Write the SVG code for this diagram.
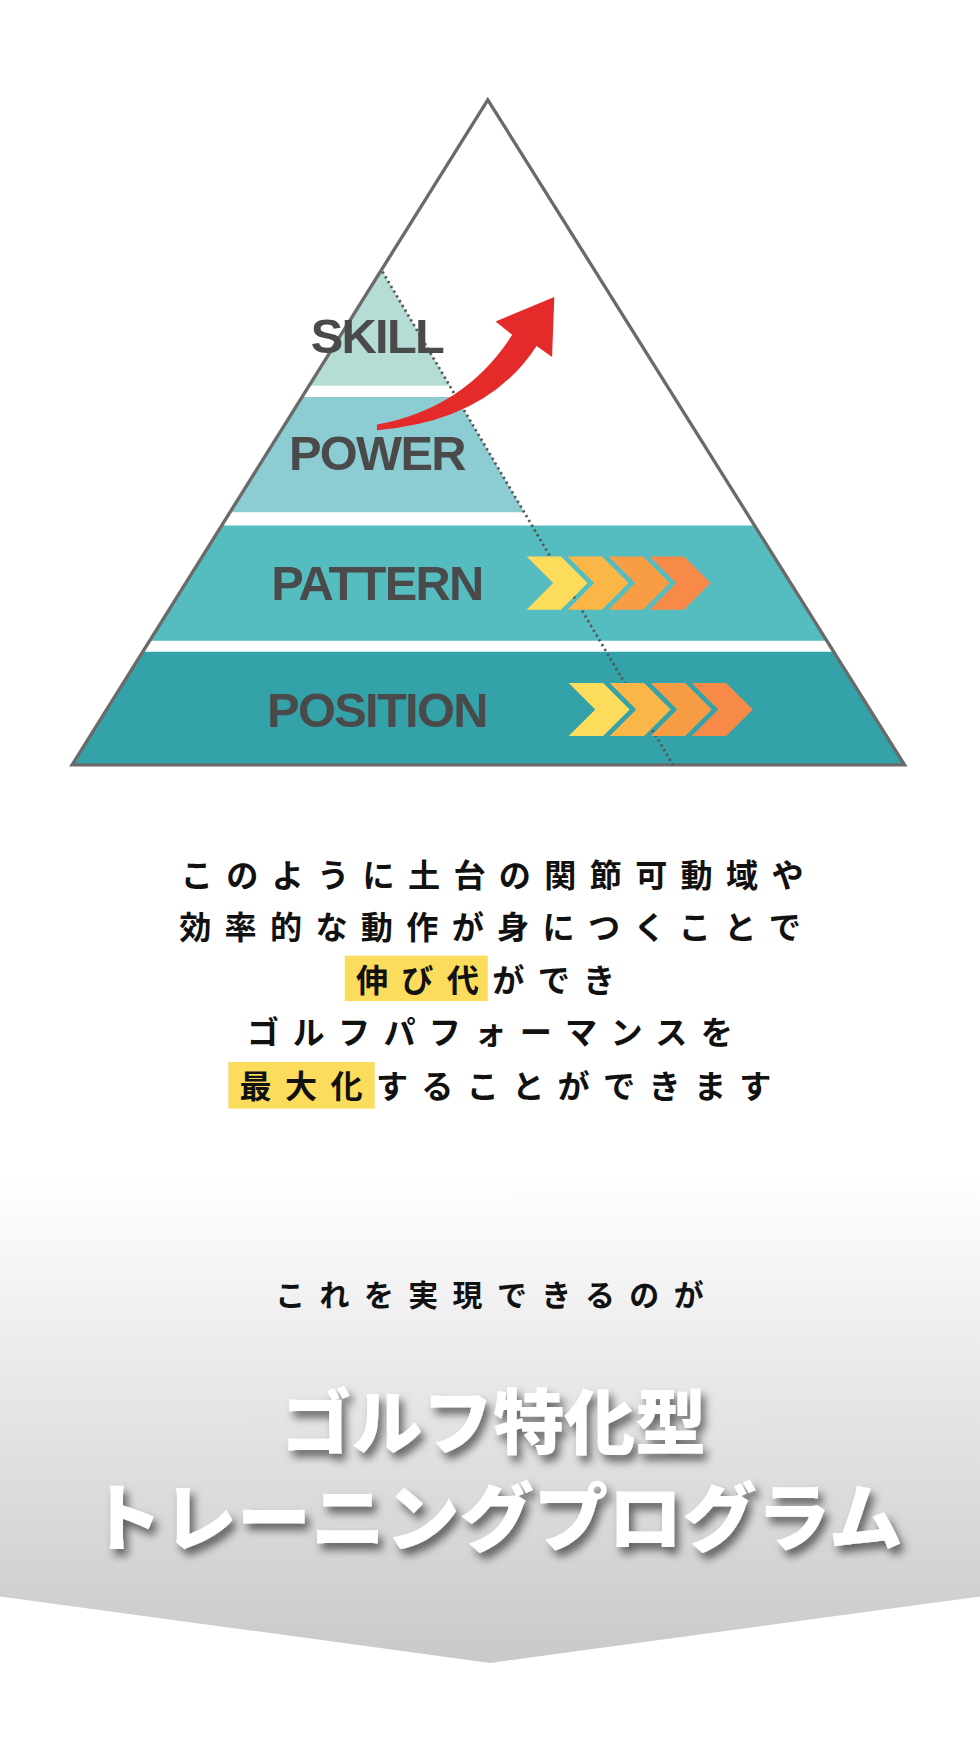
<svg xmlns="http://www.w3.org/2000/svg" width="980" height="1739" viewBox="0 0 980 1739">
<defs>
<linearGradient id="bg" x1="0" y1="0" x2="0" y2="1">
<stop offset="0" stop-color="#ffffff"/><stop offset="1" stop-color="#c9c9c9"/>
</linearGradient>
<filter id="sh" x="-10%" y="-20%" width="130%" height="150%">
<feDropShadow dx="4" dy="6" stdDeviation="4" flood-color="#000" flood-opacity="0.55"/>
</filter>
<polygon id="chev" points="0,0 31,0 55,24 31,48 0,48 24,24"/>
<style>
.lbl{font-family:"Liberation Sans",Arial,sans-serif;font-weight:bold;font-size:44px;fill:#4a4a4a;text-anchor:middle;letter-spacing:-1.5px}
.jp{font-family:"Noto Sans CJK JP",sans-serif;font-weight:bold;font-size:29px;fill:#111;text-anchor:middle;letter-spacing:12px}
.ttl{font-family:"Noto Sans CJK JP",sans-serif;font-weight:900;font-size:64px;fill:#fff;text-anchor:middle;filter:url(#sh)}
</style>
</defs>
<rect width="980" height="1739" fill="#fff"/>
<g transform="scale(1.1086)">
<path d="M0,1060 H884 V1440 L442,1500 L0,1440 Z" fill="url(#bg)"/>
<g id="pyramid">
<polygon points="343,245 345,245 406,348 279,348" fill="#b5ddd6"/>
<polygon points="272.5,358 411.6,358 472.8,462 207.5,462" fill="#8ccdd4"/>
<polygon points="200,474 680.6,474 745.8,578 135,578" fill="#55bcc0"/>
<polygon points="128.75,588 752,588 816,690 65,690" fill="#33a3a9"/>
<polygon points="440,90 816,690 65,690" fill="none" stroke="#6a6a6a" stroke-width="3"/>
<line x1="345" y1="245" x2="607" y2="690" stroke="#555" stroke-width="2.5" stroke-dasharray="2,3"/>
</g>
<g id="labels">
<text class="lbl" x="340" y="318">SKILL</text>
<text class="lbl" x="340" y="424">POWER</text>
<text class="lbl" x="340" y="541">PATTERN</text>
<text class="lbl" x="340" y="656">POSITION</text>
</g>
<g id="arrow">
<path d="M340,383 Q420,368 462,302 L447,290 L500,268 L498,322 L484,312 Q440,380 340,388 Z" fill="#e52a2a"/>
</g>
<g id="chevrons">
<use href="#chev" x="475" y="502" fill="#fddc5c"/>
<use href="#chev" x="512" y="502" fill="#fbb648"/>
<use href="#chev" x="549" y="502" fill="#f99d45"/>
<use href="#chev" x="586" y="502" fill="#f88a48"/>
<use href="#chev" x="513" y="616" fill="#fddc5c"/>
<use href="#chev" x="550" y="616" fill="#fbb648"/>
<use href="#chev" x="587" y="616" fill="#f99d45"/>
<use href="#chev" x="624" y="616" fill="#f88a48"/>
</g>
<g id="text">
<rect x="311" y="862" width="129" height="41" fill="#fbdc5c"/>
<rect x="206" y="958" width="132" height="42" fill="#fbdc5c"/>
<text class="jp" x="450" y="800">このように土台の関節可動域や</text>
<text class="jp" x="448" y="847">効率的な動作が身につくことで</text>
<text class="jp" x="444" y="895">伸び代ができ</text>
<text class="jp" x="448" y="942">ゴルフパフォーマンスを</text>
<text class="jp" x="462" y="990">最大化することができます</text>
<text class="jp" x="448" y="1178" style="font-size:27px;letter-spacing:13px">これを実現できるのが</text>
<text class="ttl" x="445" y="1306">ゴルフ特化型</text>
<text class="ttl" x="447" y="1394" style="font-size:67px">トレーニングプログラム</text>
</g>
</g>
</svg>
